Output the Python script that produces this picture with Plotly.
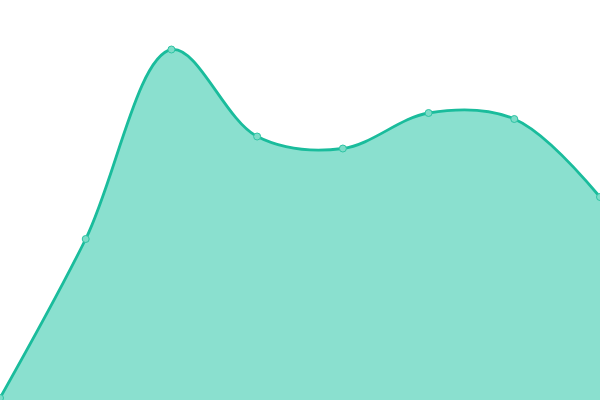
import plotly.graph_objects as go

categories = [0, 1, 2, 3, 4, 5, 6, 7]
values = [2, 161, 350.5, 263.5, 251.5, 287, 281, 203]

fig = go.Figure()
fig.add_trace(go.Scatter(
    x=categories, y=values,
    mode="lines+markers",
    line=dict(color="#1abc9c", width=2.8, shape="spline", smoothing=1),
    fill="tozeroy",
    fillcolor="#8ae0cf",
    marker=dict(size=7, color="#7ddcc8", line=dict(color="#2ec4a4", width=1)),
    cliponaxis=True,
    hoverinfo="skip",
))
fig.update_layout(
    width=600, height=400,
    margin=dict(l=0, r=0, t=0, b=0),
    paper_bgcolor="white", plot_bgcolor="white",
    showlegend=False,
    xaxis=dict(visible=False, range=[0, 7]),
    yaxis=dict(visible=False, range=[0, 400]),
)
fig.write_html(
    "out.html",
    config={"displayModeBar": False},
    post_script="document.body.style.margin='0';document.body.style.overflow='hidden';",
)
